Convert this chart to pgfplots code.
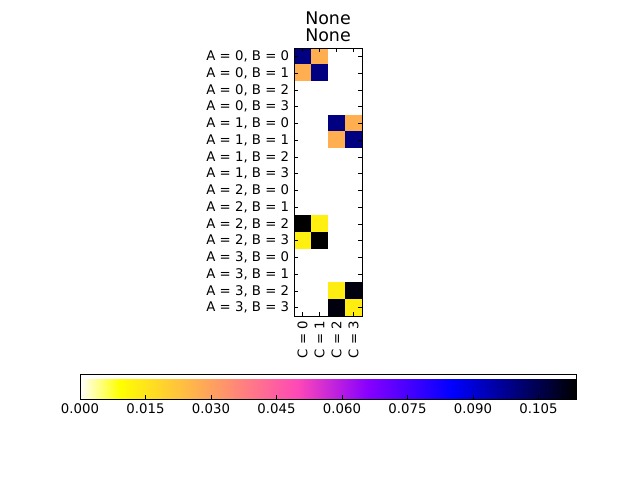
\documentclass[border=0pt]{standalone}
\usepackage{pgfplots}
\pgfplotsset{compat=1.18}
\usepackage{fontspec}
\setmainfont{DejaVu Sans}
\pgfplotsset{colormap={gnuplotrev}{rgb(0pt)=(1,1,1) rgb(32pt)=(1,1,0) rgb(175pt)=(1,0.285,0.715) rgb(232pt)=(0.531,0,1) rgb(300pt)=(0,0,1) rgb(400pt)=(0,0,0)}}
\pgfplotstableread{
x y c
0 0 0.0994
1 0 0.027
2 0 0
3 0 0
0 1 0.027
1 1 0.0994
2 1 0
3 1 0
0 2 0
1 2 0
2 2 0
3 2 0
0 3 0
1 3 0
2 3 0
3 3 0
0 4 0
1 4 0
2 4 0.0994
3 4 0.027
0 5 0
1 5 0
2 5 0.027
3 5 0.0994
0 6 0
1 6 0
2 6 0
3 6 0
0 7 0
1 7 0
2 7 0
3 7 0
0 8 0
1 8 0
2 8 0
3 8 0
0 9 0
1 9 0
2 9 0
3 9 0
0 10 0.1136
1 10 0.0125
2 10 0
3 10 0
0 11 0.0125
1 11 0.1136
2 11 0
3 11 0
0 12 0
1 12 0
2 12 0
3 12 0
0 13 0
1 13 0
2 13 0
3 13 0
0 14 0
1 14 0
2 14 0.0130
3 14 0.1120
0 15 0
1 15 0
2 15 0.1120
3 15 0.0130
}\datatable
\begin{document}
\begin{tikzpicture}
\path (0,0) rectangle (6.4in,4.8in);
\begin{axis}[
  at={(2.94in,1.64in)}, anchor=south west,
  scale only axis, width=0.68in, height=2.68in,
  xmin=-0.5, xmax=3.5, ymin=-0.5, ymax=15.5,
  y dir=reverse,
  axis on top,
  axis line style={line width=0.7pt},
  tick style={black, line width=0.5pt},
  major tick length=0.04in,
  xtick={0,1,2,3},
  xticklabels={C = 0,C = 1,C = 2,C = 3},
  ytick={0,...,15},
  yticklabels={{A = 0, B = 0},{A = 0, B = 1},{A = 0, B = 2},{A = 0, B = 3},
               {A = 1, B = 0},{A = 1, B = 1},{A = 1, B = 2},{A = 1, B = 3},
               {A = 2, B = 0},{A = 2, B = 1},{A = 2, B = 2},{A = 2, B = 3},
               {A = 3, B = 0},{A = 3, B = 1},{A = 3, B = 2},{A = 3, B = 3}},
  xticklabel style={rotate=90, anchor=east, font=\fontsize{9.6pt}{11pt}\selectfont},
  yticklabel style={font=\fontsize{9.6pt}{11pt}\selectfont},
  title={None\\None},
  title style={align=center, font=\fontsize{12.6pt}{12.3pt}\selectfont, inner sep=2pt, yshift=-0.05in},
  colormap name=gnuplotrev,
  point meta min=0, point meta max=0.1136,
  colorbar horizontal,
  colorbar style={
    at={(-3.147,-0.2164)},
    anchor=north west,
    scale only axis,
    width=4.96in, height=0.25in,
    axis line style={line width=0.7pt},
    xtick={0,0.015,0.03,0.045,0.06,0.075,0.09,0.105},
    scaled x ticks=false,
    xtick pos=bottom,
    xtick align=inside,
    major tick length=0.04in,
    xticklabel style={font=\fontsize{9.6pt}{11pt}\selectfont,
      /pgf/number format/.cd, fixed, fixed zerofill, precision=3, assume math mode=true},
  },
]
\addplot[matrix plot*, mesh/cols=4, point meta=explicit] table[x=x, y=y, meta=c] {\datatable};
\end{axis}
\end{tikzpicture}
\end{document}
